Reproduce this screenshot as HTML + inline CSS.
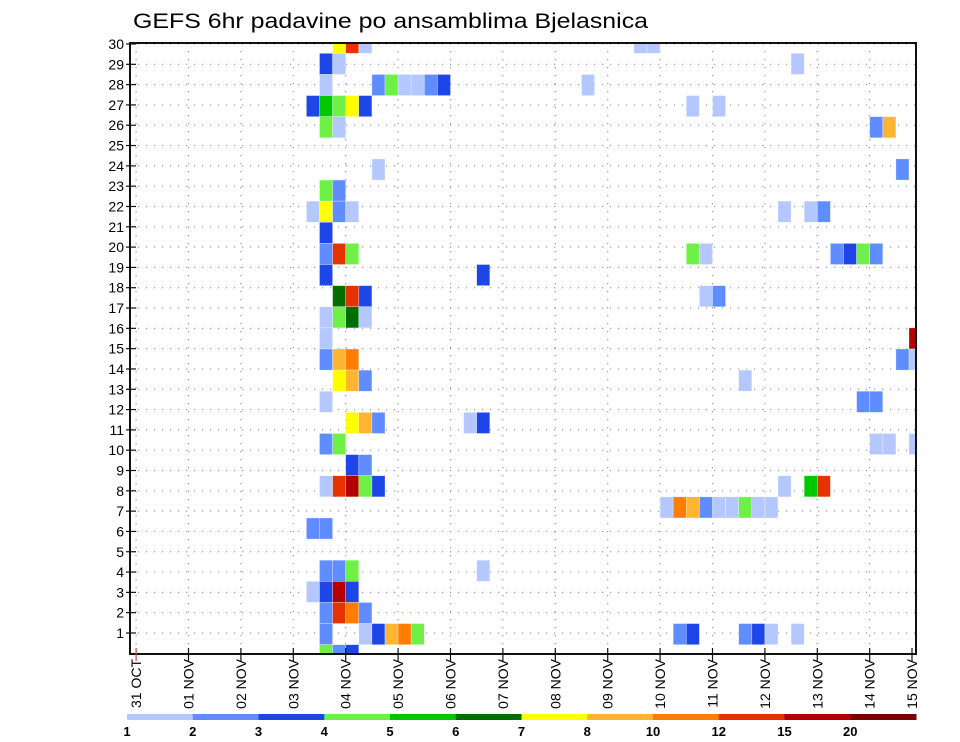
<!DOCTYPE html>
<html><head><meta charset="utf-8"><style>
html,body{margin:0;padding:0;background:#fff;}
svg{display:block;font-family:"Liberation Sans",sans-serif;}
</style></head><body>
<svg id="chart" width="960" height="742" viewBox="0 0 960 742" xmlns="http://www.w3.org/2000/svg">
<text x="133" y="28" font-size="21" textLength="515" lengthAdjust="spacingAndGlyphs" fill="#000">GEFS 6hr padavine po ansamblima Bjelasnica</text>
<g id="grid"></g>
<g id="cells"></g>
<g id="axes"></g>
<g id="legend"></g>
</svg>
<script>
// ---- data ----
const memberLabels = [30,29,28,27,26,25,24,23,22,21,20,19,18,17,16,15,14,13,12,11,10,9,8,7,6,5,4,3,2,1];
const dayLabels = ["31 OCT","01 NOV","02 NOV","03 NOV","04 NOV","05 NOV","06 NOV","07 NOV","08 NOV","09 NOV","10 NOV","11 NOV","12 NOV","13 NOV","14 NOV","15 NOV"];
const levelLabels = ["1","2","3","4","5","6","7","8","10","12","15","20"];
const levelColors = ["#b4c8ff","#5f8cff","#1e46e6","#6ef046","#00c800","#006e00","#ffff00","#ffb432","#ff7d00","#e63200","#b40000","#780000"];
// cell row index (0 = top), 6-hourly step index since 31 OCT 00z, precip mm
const cellRow = [0,0,0,0,0, 1,1,1, 2,2,2,2,2,2,2,2, 3,3,3,3,3,3,3, 4,4,4,4, 6,6, 7,7, 8,8,8,8,8,8,8, 9, 10,10,10,10,10,10,10,10,10, 11,11, 12,12,12,12,12, 13,13,13,13, 14,14, 15,15,15,15,15, 16,16,16,16, 17,17,17, 18,18,18,18,18, 19,19,19,19,19, 20,20, 21,21,21,21,21,21,21,21, 22,22,22,22,22,22,22,22,22, 23,23, 25,25,25,25, 26,26,26,26, 27,27,27,27, 28,28,28,28,28,28,28,28,28,28,28,28, 29,29,29];
const cellStep = [15,16,17,38,39, 14,15,50, 14,18,19,20,21,22,23,34, 13,14,15,16,17,42,44, 14,15,56,57, 18,58, 14,15, 13,14,15,16,49,51,52, 14, 14,15,16,42,43,53,54,55,56, 14,26, 15,16,17,43,44, 14,15,16,17, 14,59, 14,15,16,58,59, 15,16,17,46, 14,55,56, 16,17,18,25,26, 14,15,56,57,59, 16,17, 14,15,16,17,18,49,51,52, 40,41,42,43,44,45,46,47,48, 13,14, 14,15,16,26, 13,14,15,16, 14,15,16,17, 14,17,18,19,20,21,41,42,46,47,48,50, 14,15,16];
const cellValue = [7.5,13.5,1.5,1.5,1.5, 3.5,1.5,1.5, 1.5,2.5,4.5,1.5,1.5,2.5,3.5,1.5, 3.5,5.5,4.5,7.5,3.5,1.5,1.5, 4.5,1.5,2.5,9, 1.5,2.5, 4.5,2.5, 1.5,7.5,2.5,1.5,1.5,1.5,2.5, 3.5, 2.5,13.5,4.5,4.5,1.5,2.5,3.5,4.5,2.5, 3.5,3.5, 6.5,13.5,3.5,1.5,2.5, 1.5,4.5,6.5,1.5, 1.5,17.5, 2.5,9,11,2.5,1.5, 7.5,9,2.5,1.5, 1.5,2.5,2.5, 7.5,9,2.5,1.5,3.5, 2.5,4.5,1.5,1.5,1.5, 3.5,2.5, 1.5,13.5,17.5,4.5,3.5,1.5,5.5,13.5, 1.5,11,9,2.5,1.5,1.5,4.5,1.5,1.5, 2.5,2.5, 2.5,2.5,4.5,1.5, 1.5,3.5,17.5,3.5, 2.5,13.5,11,2.5, 2.5,1.5,3.5,9,11,4.5,2.5,3.5,2.5,3.5,1.5,1.5, 4.5,2.5,3.5];
const thresholds = [1,2,3,4,5,6,7,8,10,12,15,20];

// ---- scales ----
const PL=130, PR=916, PT=43, PB=654;
const X0=136.1, DAYW=52.4, STEPW=DAYW/4;
const xStep = s => X0 + s*STEPW;
const xDay = d => X0 + d*DAYW;
const rowTop = i => 32.2 + i*21.12;
const ROWH = 21.12;
const yLabel = k => 44 + (30-k)*20.31;
const NS="http://www.w3.org/2000/svg";
function mk(tag, attrs, parent){const e=document.createElementNS(NS,tag);for(const k in attrs)e.setAttribute(k,attrs[k]);parent.appendChild(e);return e;}
function colorFor(v){let idx=0;for(let j=0;j<thresholds.length;j++){if(v>=thresholds[j])idx=j;}return levelColors[idx];}

const grid=document.getElementById('grid'), cells=document.getElementById('cells'), axes=document.getElementById('axes'), legend=document.getElementById('legend');

const defs=mk('defs',{},document.getElementById('chart'));
const cp=mk('clipPath',{id:'plotclip'},defs);
mk('rect',{x:PL,y:PT,width:PR-PL,height:PB-PT},cp);
cells.setAttribute('clip-path','url(#plotclip)');

memberLabels.forEach(k=>{
  const l=mk('line',{x1:PL,x2:PR,y1:yLabel(k),y2:yLabel(k),stroke:'#999','stroke-width':1.2,'stroke-dasharray':'1.2,6.8'},grid);
  
  
});
dayLabels.forEach((d,i)=>{
  const x=xDay(i); if(x>PR) return;
  const l=mk('line',{x1:x,x2:x,y1:PT,y2:PB,stroke:'#999','stroke-width':1.2,'stroke-dasharray':'1.2,6.8'},grid);
  
  
});

for(let n=0;n<cellRow.length;n++){
  const r=mk('rect',{x:xStep(cellStep[n]),y:rowTop(cellRow[n]),width:STEPW,height:ROWH,fill:colorFor(cellValue[n]),stroke:'#fff','stroke-width':0.6,'stroke-opacity':0.5},cells);
  
  
}

const fr=mk('rect',{x:PL,y:PT,width:PR-PL,height:PB-PT,fill:'none',stroke:'#111','stroke-width':2},axes);



memberLabels.forEach(k=>{
  const y=yLabel(k);
  mk('line',{x1:126,x2:136,y1:y,y2:y,stroke:'#111','stroke-width':1.2},axes);
  const t=mk('text',{x:124,y:y+5,'font-size':14,'text-anchor':'end',fill:'#000'},axes);
  t.textContent=String(k);
  
  
});
dayLabels.forEach((d,i)=>{
  let x=xDay(i); if(x>PR) x=912;
  mk('line',{x1:x,x2:x,y1:PB-6,y2:PB+7,stroke:i===0?'#c44':'#111','stroke-width':1.2},axes);
  const t=mk('text',{transform:`translate(${x+5},659) rotate(-90)`,'font-size':14,'text-anchor':'end',fill:'#000'},axes);
  t.textContent=d;
  
  
});

const LX=127, LW=(916-127)/levelColors.length;
levelColors.forEach((c,j)=>{
  const r=mk('rect',{x:LX+j*LW,y:714,width:LW+0.5,height:6,fill:c},legend);
  
  
});
levelLabels.forEach((s,j)=>{
  const t=mk('text',{x:LX+j*LW,y:736,'font-size':13,'font-weight':'bold','text-anchor':'middle',fill:'#000'},legend);
  t.textContent=s;
  
  
});
</script>
</body></html>
